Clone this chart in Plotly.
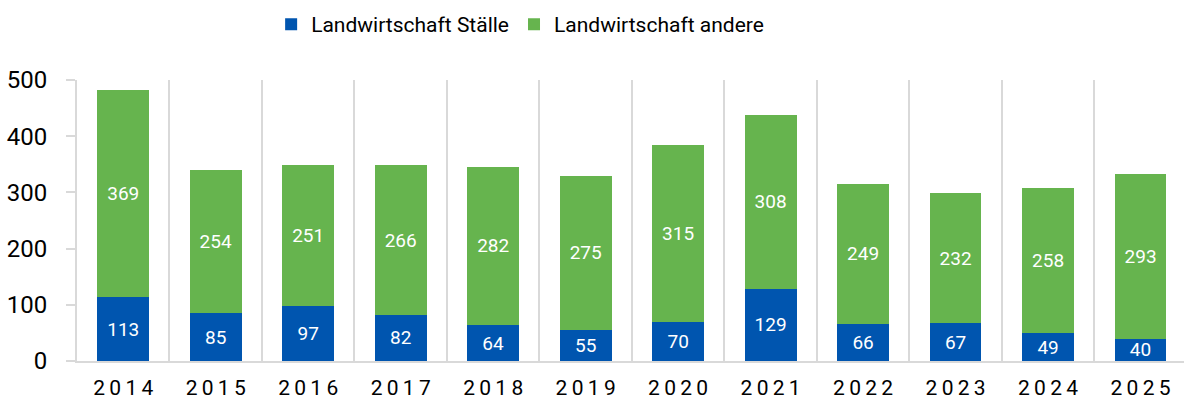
import plotly.graph_objects as go

# Jahreswerte
years = ["2014", "2015", "2016", "2017", "2018", "2019",
         "2020", "2021", "2022", "2023", "2024", "2025"]
staelle = [113, 85, 97, 82, 64, 55, 70, 129, 66, 67, 49, 40]
andere = [369, 254, 251, 266, 282, 275, 315, 308, 249, 232, 258, 293]
y_ticks = [0, 100, 200, 300, 400, 500]

BLUE = "#0055AF"
GREEN = "#66B44E"
GRID = "#D9D9D9"
FONT = "Roboto, Noto Sans, sans-serif"

# gesperrte Jahreszahlen für die Achsenbeschriftung
year_labels = ["\u2009".join(y) for y in years]

fig = go.Figure()
for name, vals, color in [("Landwirtschaft Ställe", staelle, BLUE),
                          ("Landwirtschaft andere", andere, GREEN)]:
    fig.add_trace(go.Bar(
        x=years, y=vals, name=name,
        marker=dict(color=color, line=dict(width=0)),
        text=vals, textposition="inside", insidetextanchor="middle",
        textangle=0,
        textfont=dict(color="white", size=19, family=FONT),
        constraintext="none", hoverinfo="skip",
    ))

fig.update_layout(
    width=1184, height=401,
    barmode="stack", bargap=0.44,
    paper_bgcolor="white", plot_bgcolor="white",
    margin=dict(l=77, r=0, t=80, b=40, autoexpand=False),
    font=dict(family=FONT, color="#000000"),
    showlegend=True,
    legend=dict(
        orientation="h", xref="container", x=0.229, xanchor="left",
        yref="container", y=0.99, yanchor="top",
        font=dict(size=21, family=FONT),
        itemwidth=30, traceorder="normal",
        bgcolor="rgba(0,0,0,0)",
    ),
)

fig.update_xaxes(
    type="category", tickson="boundaries",
    tickvals=years, ticktext=year_labels,
    range=[-0.5, 11.47],
    showgrid=True, gridcolor=GRID, gridwidth=2,
    showline=True, linecolor=GRID, linewidth=2,
    ticks="", ticklabelstandoff=7, automargin=False,
    tickfont=dict(size=21, family=FONT, color="#000000"),
    zeroline=False, fixedrange=True,
)
fig.update_yaxes(
    range=[0, 500], tickvals=y_ticks,
    showgrid=False, zeroline=False,
    showline=True, linecolor=GRID, linewidth=2,
    ticks="outside", ticklen=9, tickcolor=GRID, tickwidth=2,
    ticklabelstandoff=14, automargin=False,
    tickfont=dict(size=24, family=FONT, color="#000000"),
    fixedrange=True,
)

fig.write_html("out.html")
